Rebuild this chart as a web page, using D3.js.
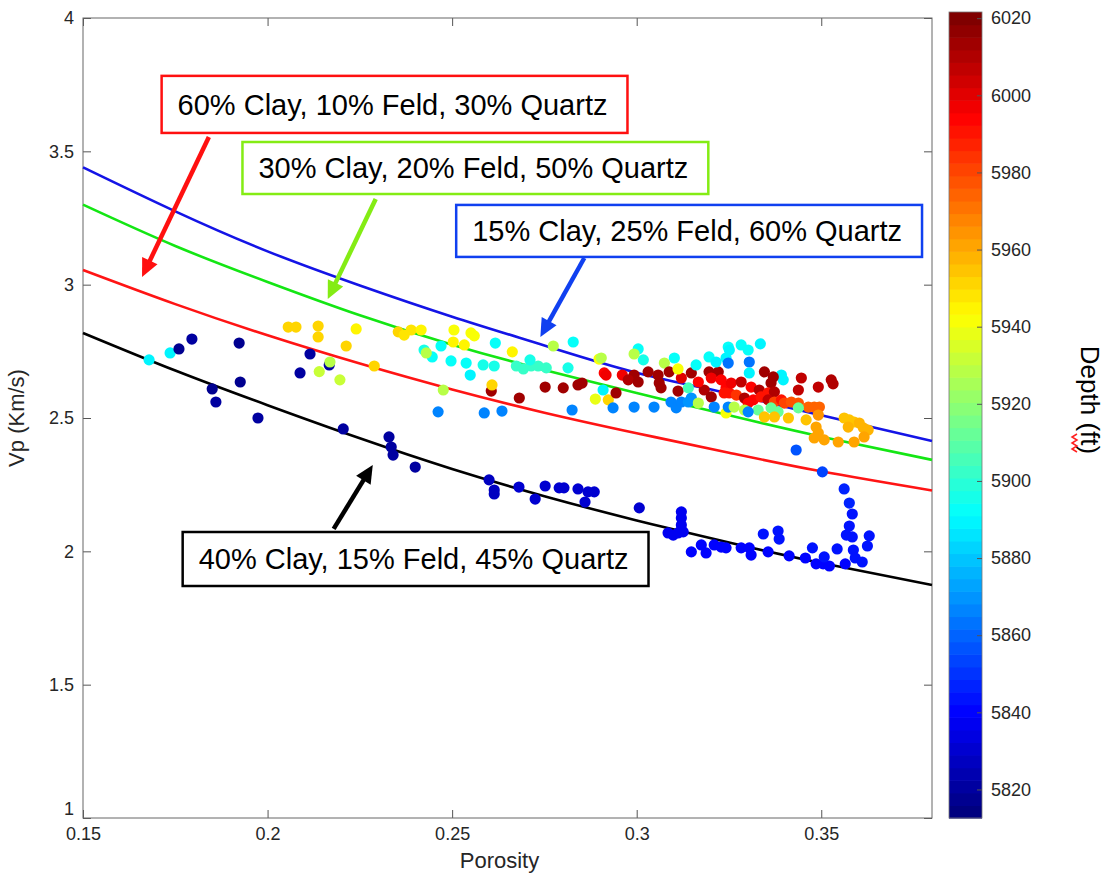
<!DOCTYPE html>
<html>
<head>
<meta charset="utf-8">
<script src="https://cdn.jsdelivr.net/npm/d3@7"></script>
<style>
  body { margin: 0; background: #fff; }
  text { font-family: "Liberation Sans", Arial, Helvetica, sans-serif; }
</style>
</head>
<body>
<svg id="chart" width="1111" height="878"></svg>
<script>
// ---- Well-log samples: porosity, P-wave velocity (km/s), depth (ft) ----
const porosity = [
  0.1679,0.1736,0.1760,0.1795,0.1923,0.1850,0.1860,0.1926,0.1974,0.2115,
  0.2088,0.2167,0.2169,0.2140,0.2196,0.2056,0.2077,0.2137,0.2137,0.2240,
  0.2213,0.2289,0.2205,0.2329,0.2335,0.2340,0.2400,0.2354,0.2370,0.2389,
  0.2416,0.2424,0.2446,0.2430,0.2470,0.2462,0.2476,0.2505,0.2551,0.2560,
  0.2533,0.2503,0.2497,0.2538,0.2549,0.2584,0.2614,0.2617,0.2663,0.2674,
  0.2693,0.2714,0.2733,0.2755,0.2711,0.2774,0.2828,0.2814,0.2898,0.2912,
  0.2841,0.2852,0.2801,0.2752,0.2682,0.2606,0.2608,0.2587,0.2635,0.2825,
  0.2909,0.2888,0.2923,0.2600,0.2614,0.2614,0.2681,0.2725,0.2752,0.2790,
  0.2803,0.2841,0.2868,0.2885,0.2860,0.3007,0.3121,0.3121,0.3121,0.3121,
  0.3085,0.3099,0.3112,0.3126,0.3148,0.3175,0.3188,0.3210,0.3229,0.3242,
  0.3283,0.3305,0.3310,0.3343,0.3356,0.3383,0.3386,0.3413,0.3457,0.3476,
  0.3486,0.3505,0.3522,0.3508,0.3543,0.3565,0.3562,0.3576,0.3584,0.3576,
  0.3568,0.3584,0.3587,0.3592,0.3611,0.3625,0.3630,0.3432,0.3503,0.3004,
  0.3018,0.2993,0.2904,0.3102,0.3075,0.2917,0.2961,0.2993,0.2977,0.3004,
  0.3031,0.3058,0.3061,0.3066,0.3088,0.3121,0.3112,0.3112,0.3148,0.3183,
  0.3196,0.3221,0.3202,0.3161,0.3196,0.3215,0.3242,0.3248,0.3140,0.3167,
  0.3202,0.3229,0.3242,0.3251,0.2944,0.2936,0.2993,0.3047,0.3093,0.3107,
  0.3121,0.3140,0.3148,0.3167,0.3242,0.3210,0.3248,0.3283,0.3302,0.3335,
  0.3251,0.3305,0.3248,0.3305,0.3392,0.3397,0.3346,0.3370,0.3364,0.3446,
  0.3438,0.3492,0.3527,0.3532,0.3256,0.3283,0.3310,0.3332,0.3356,0.3373,
  0.3237,0.3270,0.3292,0.3316,0.3337,0.3356,0.3373,0.3392,0.3400,0.3302,
  0.3419,0.3438,0.3465,0.3481,0.3495,0.3364,0.3383,0.3329,0.3438,0.3346,
  0.3373,0.3411,0.3459,0.3292,0.3264,0.3302,0.3492,0.3562,0.3576,0.3589,
  0.3603,0.3573,0.3614,0.3627,0.3486,0.3492,0.3481,0.3508,0.3546,0.3589,
  0.3616
];
const vp = [
  2.718,2.744,2.759,2.796,2.781,2.609,2.560,2.635,2.500,2.740,
  2.669,2.699,2.710,2.674,2.643,2.841,2.841,2.845,2.804,2.834,
  2.770,2.695,2.459,2.429,2.391,2.361,2.316,2.823,2.811,2.830,
  2.830,2.755,2.729,2.744,2.770,2.523,2.605,2.830,2.819,2.808,
  2.774,2.785,2.714,2.706,2.661,2.699,2.695,2.781,2.748,2.695,
  2.684,2.695,2.695,2.688,2.718,2.770,2.785,2.688,2.721,2.669,
  2.624,2.631,2.613,2.616,2.575,2.601,2.624,2.519,2.526,2.530,
  2.605,2.571,2.568,2.268,2.230,2.215,2.241,2.196,2.245,2.238,
  2.238,2.234,2.223,2.223,2.185,2.163,2.148,2.125,2.099,2.080,
  2.069,2.061,2.069,2.073,1.998,2.024,1.994,2.024,2.016,2.013,
  2.013,2.013,1.986,2.065,1.998,2.076,2.046,1.983,1.975,2.013,
  1.953,1.953,1.945,1.979,2.009,1.953,2.234,2.181,2.140,2.095,
  2.061,2.054,2.005,1.975,1.960,2.020,2.058,2.380,2.298,2.759,
  2.718,2.740,2.725,2.725,2.706,2.661,2.661,2.661,2.643,2.635,
  2.673,2.661,2.631,2.613,2.673,2.650,2.684,2.601,2.669,2.605,
  2.673,2.673,2.579,2.699,2.729,2.710,2.725,2.766,2.613,2.635,
  2.650,2.643,2.613,2.594,2.594,2.538,2.541,2.541,2.560,2.538,
  2.560,2.560,2.575,2.556,2.519,2.541,2.541,2.774,2.755,2.778,
  2.755,2.710,2.706,2.669,2.661,2.643,2.673,2.654,2.631,2.650,
  2.605,2.616,2.643,2.628,2.631,2.635,2.616,2.605,2.594,2.598,
  2.594,2.586,2.575,2.568,2.579,2.568,2.560,2.568,2.556,2.556,
  2.560,2.556,2.541,2.541,2.541,2.538,2.523,2.530,2.538,2.504,
  2.504,2.500,2.493,2.530,2.541,2.523,2.511,2.500,2.493,2.485,
  2.481,2.466,2.463,2.455,2.466,2.444,2.425,2.418,2.410,2.410,
  2.429
];
const depth = [
  5888,5890,5818,5820,5818,5818,5820,5818,5820,5822,
  5820,5822,5930,5932,5933,5950,5950,5950,5950,5945,
  5950,5950,5820,5822,5822,5822,5822,5950,5948,5948,
  5945,5895,5893,5928,5892,5865,5930,5942,5942,5942,
  5945,5945,5892,5893,5890,5895,5895,5893,5945,5903,
  5903,5903,5903,5903,5895,5930,5893,5895,5942,5995,
  6012,6012,6015,6015,6015,6015,5952,5865,5865,5865,
  5888,5938,5952,5828,5828,5828,5830,5830,5830,5830,
  5830,5830,5830,5830,5830,5832,5838,5838,5838,5838,
  5838,5838,5838,5838,5840,5840,5840,5840,5840,5840,
  5840,5840,5840,5842,5840,5842,5842,5840,5840,5842,
  5840,5840,5840,5842,5842,5840,5848,5846,5845,5845,
  5845,5845,5843,5842,5842,5843,5843,5858,5855,5893,
  5895,5930,5930,5893,5928,5998,5998,6012,6010,6012,
  6015,6015,6012,6012,6015,6000,5942,6012,6015,6010,
  6015,6015,6012,5893,5893,5890,5888,5893,5905,5995,
  5998,5995,5995,5992,6012,5868,5868,5868,5868,5868,
  5868,5870,5870,5930,5942,5868,5868,5892,5892,5890,
  5890,5862,5862,5888,5888,5890,6012,6012,6012,6008,
  6008,6008,6010,6010,5998,6008,5995,6010,5992,6010,
  5990,5985,6010,5995,5992,6008,5982,5990,5980,5995,
  5978,5978,5975,5975,5975,5912,5912,5912,5912,5955,
  5955,5955,5955,5930,5928,5868,5965,5955,5955,5955,
  5958,5958,5958,5958,5962,5962,5962,5962,5962,5962,
  5962
];

// ---- Rock-physics model curves (Vp vs porosity) for four mineral mixes ----
const modelPorosity = [0.15, 0.175, 0.2, 0.225, 0.25, 0.275, 0.3, 0.325, 0.35, 0.38];
const vpClay15 = [3.440, 3.275, 3.125, 2.997, 2.880, 2.772, 2.670, 2.592, 2.510, 2.414];
const vpClay30 = [3.300, 3.145, 3.010, 2.885, 2.775, 2.680, 2.594, 2.510, 2.430, 2.343];
const vpClay60 = [3.055, 2.927, 2.810, 2.704, 2.607, 2.520, 2.443, 2.370, 2.300, 2.228];
const vpClay40 = [2.819, 2.678, 2.548, 2.424, 2.309, 2.207, 2.116, 2.033, 1.956, 1.874];

// ---- Axis ranges and tick labels ----
const porosityDomain = [0.15, 0.38];
const vpDomain = [1, 4];
const porosityTicks = [0.15, 0.2, 0.25, 0.3, 0.35];
const vpTicks = [1, 1.5, 2, 2.5, 3, 3.5, 4];
const depthDomain = [5812.6, 6021.6];
const depthTicks = [5820, 5840, 5860, 5880, 5900, 5920, 5940, 5960, 5980, 6000, 6020];

// ---- Callout labels with their boxes and arrows (data coordinates) ----
const calloutText = [
  "60% Clay, 10% Feld, 30% Quartz",
  "30% Clay, 20% Feld, 50% Quartz",
  "15% Clay, 25% Feld, 60% Quartz",
  "40% Clay, 15% Feld, 45% Quartz"
];
const calloutColor = ["#ff1010", "#84ec14", "#1040f0", "#000000"];
const calloutBoxLeft = [0.1713, 0.1932, 0.2511, 0.1770];
const calloutBoxTop = [3.7830, 3.5350, 3.2990, 2.0725];
const calloutBoxBottom = [3.5690, 3.3400, 3.1040, 1.8700];
const arrowTail = [[0.1841, 3.554], [0.2293, 3.321], [0.2858, 3.100], [0.2179, 2.084]];
const arrowTip  = [[0.1660, 3.029], [0.2163, 2.946], [0.2739, 2.804], [0.2285, 2.324]];

// ---- Layout ----
const svg = d3.select("#chart");
const plot = { left: 83, right: 932, top: 18, bottom: 818 };
const bar = { left: 949, right: 982, top: 12, bottom: 818 };
const axisInk = "#262626";

const x = d3.scaleLinear().domain(porosityDomain).range([plot.left, plot.right]);
const y = d3.scaleLinear().domain(vpDomain).range([plot.bottom, plot.top]);
const cbY = d3.scaleLinear().domain(depthDomain).range([bar.bottom, bar.top]);

// MATLAB-style jet colormap, 64 discrete levels
function jet(t) {
  const c = v => Math.max(0, Math.min(1, v));
  return d3.rgb(
    Math.round(255 * c(Math.min(4 * t - 1.5, -4 * t + 4.5))),
    Math.round(255 * c(Math.min(4 * t - 0.5, -4 * t + 3.5))),
    Math.round(255 * c(Math.min(4 * t + 0.5, -4 * t + 2.5)))
  ).formatHex();
}
const levels = 64;
const depthColor = d3.scaleQuantize()
  .domain(depthDomain)
  .range(d3.range(levels).map(i => jet(i / (levels - 1))));

// ---- Axes frame and ticks ----
const fmt = d => String(d);
const styleAxis = g => {
  g.select(".domain").remove();
  g.selectAll(".tick line").attr("stroke", "#555").attr("stroke-width", 1);
  g.selectAll(".tick text").attr("fill", axisInk).style("font-size", "18px");
};

svg.append("g")
  .attr("transform", `translate(0,${plot.bottom})`)
  .call(d3.axisBottom(x).tickValues(porosityTicks).tickFormat(fmt)
    .tickSizeInner(-8).tickSizeOuter(0).tickPadding(9))
  .call(styleAxis);

svg.append("g")
  .attr("transform", `translate(0,${plot.top})`)
  .call(d3.axisTop(x).tickValues(porosityTicks).tickFormat("")
    .tickSizeInner(-8).tickSizeOuter(0))
  .call(styleAxis);

const yAxisG = svg.append("g")
  .attr("transform", `translate(${plot.left},0)`)
  .call(d3.axisLeft(y).tickValues(vpTicks).tickFormat(fmt)
    .tickSizeInner(-8).tickSizeOuter(0).tickPadding(9))
  .call(styleAxis);
// lift the bottom label clear of the porosity labels
yAxisG.selectAll(".tick").filter(d => d === vpDomain[0]).select("text").attr("dy", "-0.2em");

svg.append("g")
  .attr("transform", `translate(${plot.right},0)`)
  .call(d3.axisRight(y).tickValues(vpTicks).tickFormat("")
    .tickSizeInner(-8).tickSizeOuter(0))
  .call(styleAxis);

svg.append("rect")
  .attr("x", plot.left).attr("y", plot.top)
  .attr("width", plot.right - plot.left).attr("height", plot.bottom - plot.top)
  .attr("fill", "none").attr("stroke", "#666").attr("stroke-width", 1);

// Axis titles
svg.append("text")
  .attr("x", (plot.left + plot.right) / 2 - 8).attr("y", 868)
  .attr("text-anchor", "middle").attr("fill", axisInk)
  .style("font-size", "22px").text("Porosity");

svg.append("text")
  .attr("transform", `translate(24,${(plot.top + plot.bottom) / 2}) rotate(-90)`)
  .attr("text-anchor", "middle").attr("fill", axisInk)
  .style("font-size", "22px").text("Vp (Km/s)");

// ---- Model curves ----
const curveSets = [
  { values: vpClay15, color: "#1414e6" },
  { values: vpClay30, color: "#14e614" },
  { values: vpClay60, color: "#ff1414" },
  { values: vpClay40, color: "#000000" }
];
const line = d3.line()
  .x((d, i) => x(modelPorosity[i]))
  .y(d => y(d))
  .curve(d3.curveNatural);

svg.append("g").selectAll("path")
  .data(curveSets)
  .join("path")
  .attr("d", d => line(d.values))
  .attr("fill", "none")
  .attr("stroke", d => d.color)
  .attr("stroke-width", 2.6);

// ---- Samples coloured by depth ----
svg.append("g").selectAll("circle")
  .data(d3.range(porosity.length))
  .join("circle")
  .attr("cx", i => x(porosity[i]))
  .attr("cy", i => y(vp[i]))
  .attr("r", 5.6)
  .attr("fill", i => depthColor(depth[i]));

// ---- Callouts ----
function drawArrow(g, p0, p1, color) {
  const x0 = x(p0[0]), y0 = y(p0[1]), x1 = x(p1[0]), y1 = y(p1[1]);
  const len = Math.hypot(x1 - x0, y1 - y0);
  const ux = (x1 - x0) / len, uy = (y1 - y0) / len;
  const headLen = 18, headHalf = 8.5;
  const bx = x1 - ux * headLen, by = y1 - uy * headLen;
  g.append("line")
    .attr("x1", x0).attr("y1", y0).attr("x2", bx + ux * 2).attr("y2", by + uy * 2)
    .attr("stroke", color).attr("stroke-width", 4.5);
  g.append("path")
    .attr("d", `M${x1},${y1}L${bx - uy * headHalf},${by + ux * headHalf}L${bx + uy * headHalf},${by - ux * headHalf}Z`)
    .attr("fill", color);
}

const calloutG = svg.append("g");
calloutText.forEach((label, i) => {
  const g = calloutG.append("g");
  const left = x(calloutBoxLeft[i]);
  const top = y(calloutBoxTop[i]);
  const bottom = y(calloutBoxBottom[i]);
  const rect = g.append("rect").attr("fill", "#fff")
    .attr("stroke", calloutColor[i]).attr("stroke-width", 2.5);
  const t = g.append("text")
    .attr("x", left + 16).attr("y", (top + bottom) / 2)
    .attr("dy", "0.36em").attr("fill", "#000")
    .style("font-size", "29px").text(label);
  const w = t.node().getComputedTextLength();
  rect.attr("x", left).attr("y", top).attr("width", w + 36).attr("height", bottom - top);
  drawArrow(g, arrowTail[i], arrowTip[i], calloutColor[i]);
});

// ---- Colour bar ----
const step = (depthDomain[1] - depthDomain[0]) / levels;
svg.append("g").selectAll("rect")
  .data(d3.range(levels))
  .join("rect")
  .attr("x", bar.left)
  .attr("width", bar.right - bar.left)
  .attr("y", i => cbY(depthDomain[0] + (i + 1) * step))
  .attr("height", i => cbY(depthDomain[0] + i * step) - cbY(depthDomain[0] + (i + 1) * step) + 0.6)
  .attr("fill", i => jet(i / (levels - 1)));

svg.append("rect")
  .attr("x", bar.left).attr("y", bar.top)
  .attr("width", bar.right - bar.left).attr("height", bar.bottom - bar.top)
  .attr("fill", "none").attr("stroke", "#777").attr("stroke-width", 0.8);

svg.append("g")
  .attr("transform", `translate(${bar.right},0)`)
  .call(d3.axisRight(cbY).tickValues(depthTicks).tickFormat(fmt)
    .tickSizeInner(-5).tickSizeOuter(0).tickPadding(9))
  .call(styleAxis);

// Colour-bar title, with the red wavy underline under "ft"
const titleG = svg.append("g").attr("transform", "translate(1081,400) rotate(90)");
titleG.append("text")
  .attr("text-anchor", "middle").attr("fill", "#000")
  .style("font-size", "26px").text("Depth (ft)");
const wave = d3.range(0, 7).map(k => [34 + k * 3, k % 2 === 0 ? 4 : 9]);
titleG.append("path")
  .attr("d", d3.line()(wave))
  .attr("fill", "none").attr("stroke", "#ff2020").attr("stroke-width", 1.5);
</script>
</body>
</html>
